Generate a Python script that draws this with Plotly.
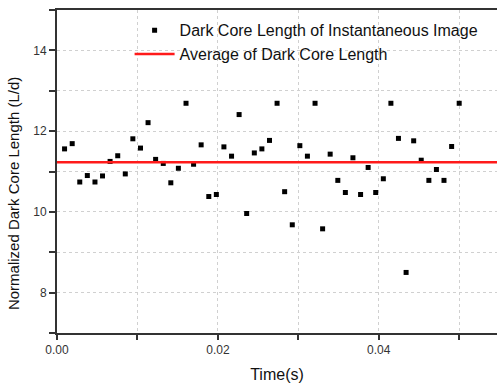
import plotly.graph_objects as go

time_s = [0.00094, 0.00189, 0.00283, 0.00377, 0.00472, 0.00566, 0.00660, 0.00755,
          0.00849, 0.00943, 0.01038, 0.01132, 0.01226, 0.01321, 0.01415, 0.01509,
          0.01604, 0.01698, 0.01792, 0.01887, 0.01981, 0.02075, 0.02170, 0.02264,
          0.02358, 0.02453, 0.02547, 0.02642, 0.02736, 0.02830, 0.02925, 0.03019,
          0.03113, 0.03208, 0.03302, 0.03396, 0.03491, 0.03585, 0.03679, 0.03774,
          0.03868, 0.03962, 0.04057, 0.04151, 0.04245, 0.04340, 0.04434, 0.04528,
          0.04623, 0.04717, 0.04811, 0.04906, 0.05000]
dark_core = [11.56, 11.69, 10.74, 10.90, 10.74, 10.89, 11.25, 11.39, 10.94, 11.81,
             11.58, 12.21, 11.30, 11.20, 10.72, 11.08, 12.69, 11.18, 11.66, 10.38,
             10.43, 11.61, 11.38, 12.41, 9.96, 11.46, 11.56, 11.77, 12.69, 10.50,
             9.68, 11.64, 11.38, 12.69, 9.58, 11.43, 10.78, 10.48, 11.34, 10.43,
             11.10, 10.48, 10.82, 12.69, 11.82, 8.50, 11.76, 11.28, 10.78, 11.05,
             10.78, 11.62, 12.69]
average_len = 11.23
x_range = [0, 0.0547]
y_range = [7, 15]
x_ticks = [0.0, 0.01, 0.02, 0.03, 0.04, 0.05]
x_labels = ["0.00", "", "0.02", "", "0.04", ""]
y_ticks = [7, 8, 9, 10, 11, 12, 13, 14, 15]
y_labels = ["", "8", "", "10", "", "12", "", "14", ""]

font = "Liberation Sans, Arial, sans-serif"

fig = go.Figure()
fig.add_trace(go.Scatter(
    x=time_s, y=dark_core, mode="markers",
    name="Dark Core Length of Instantaneous Image",
    marker=dict(symbol="square", size=5, color="black", line=dict(width=0)),
    cliponaxis=False,
))
fig.add_trace(go.Scatter(
    x=x_range, y=[average_len, average_len], mode="lines",
    name="Average of Dark Core Length",
    line=dict(color="#ff1a1a", width=2.5),
))

fig.update_layout(
    width=497, height=383,
    margin=dict(l=57, r=0, t=10, b=50),
    plot_bgcolor="white", paper_bgcolor="white",
    font=dict(family=font, color="#222222"),
    showlegend=True,
    legend=dict(
        x=0.165, y=0.99, xanchor="left", yanchor="top",
        bgcolor="rgba(0,0,0,0)", font=dict(size=16, family=font, color="#111111"),
        tracegroupgap=0, itemwidth=40,
    ),
    xaxis=dict(
        range=x_range, tickvals=x_ticks, ticktext=x_labels,
        ticks="outside", ticklen=5, tickwidth=1.5, tickcolor="#333333",
        showline=True, linecolor="#333333", linewidth=2, mirror=True,
        showgrid=True, gridcolor="#d0d0d0", griddash="dot", gridwidth=1,
        zeroline=False, tickfont=dict(size=12, color="#333333"),
        title=dict(text="Time(s)", font=dict(size=16, color="#111111"), standoff=14),
    ),
    yaxis=dict(
        range=y_range, tickvals=y_ticks, ticktext=y_labels,
        ticks="outside", ticklen=6, tickwidth=1.5, tickcolor="#333333",
        showline=True, linecolor="#333333", linewidth=2, mirror=False,
        showgrid=True, gridcolor="#d0d0d0", griddash="dot", gridwidth=1,
        zeroline=False, tickfont=dict(size=12, color="#333333"),
    ),
    annotations=[dict(
        text="Normalized Dark Core Length (L/d)", textangle=-90,
        xref="paper", yref="paper", x=-0.1, y=0.43, xanchor="center", yanchor="middle",
        showarrow=False, font=dict(size=15, color="#111111", family=font),
    )],
)

fig.write_html("out.html")
